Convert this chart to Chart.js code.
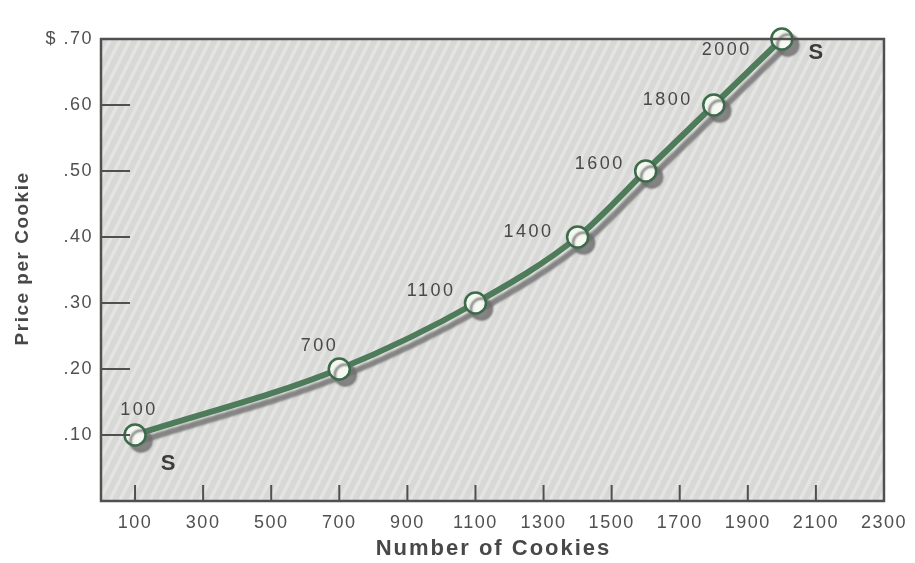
<!DOCTYPE html>
<html>
<head>
<meta charset="utf-8">
<script src="https://cdn.jsdelivr.net/npm/chart.js@4.4.1/dist/chart.umd.min.js"></script>
<style>
  html, body { margin: 0; padding: 0; background: #ffffff; }
  #wrap { width: 915px; height: 563px; position: relative; }
</style>
</head>
<body>
<div id="wrap"><canvas id="c" width="915" height="563"></canvas></div>
<script>
// Supply schedule: cookies offered at each price
const quantities = [100, 700, 1100, 1400, 1600, 1800, 2000];
const prices = [0.10, 0.20, 0.30, 0.40, 0.50, 0.60, 0.70];
const pointLabels = ['100', '700', '1100', '1400', '1600', '1800', '2000'];
const xTickValues = [100, 300, 500, 700, 900, 1100, 1300, 1500, 1700, 1900, 2100, 2300];
const curveName = 'S';
const yTitle = 'Price per Cookie';
const xTitle = 'Number of Cookies';

const INK = '#484848';
const FONT = 'Liberation Sans, Arial, Helvetica, sans-serif';

// Hatched gray panel behind the plot
function hatchPattern(ctx) {
  const p = document.createElement('canvas');
  p.width = 10; p.height = 20;
  const g = p.getContext('2d');
  g.fillStyle = '#d8d9d7';
  g.fillRect(0, 0, 10, 20);
  g.strokeStyle = '#e4e5e3';
  g.lineWidth = 3.5;
  for (let k = -1; k <= 1; k++) {
    g.beginPath();
    g.moveTo(k * 10, 20);
    g.lineTo(k * 10 + 10, 0);
    g.stroke();
  }
  return ctx.createPattern(p, 'repeat');
}

// Wide lettering for the tick labels
const spacingPlugin = {
  id: 'spacing',
  beforeDraw(chart) { chart.ctx.letterSpacing = '1.5px'; },
  afterDraw(chart) { chart.ctx.letterSpacing = '0px'; }
};

const framePlugin = {
  id: 'frame',
  beforeDatasetsDraw(chart) {
    const { ctx, chartArea: a } = chart;
    ctx.save();
    ctx.fillStyle = hatchPattern(ctx);
    ctx.fillRect(a.left, a.top, a.right - a.left, a.bottom - a.top);
    ctx.restore();
  },
  afterDatasetsDraw(chart) {
    const { ctx, chartArea: a, scales } = chart;
    ctx.save();
    ctx.strokeStyle = '#505050';
    ctx.lineWidth = 2.5;
    ctx.strokeRect(a.left, a.top, a.right - a.left, a.bottom - a.top);
    ctx.lineWidth = 2;
    // inward tick marks
    scales.x.ticks.forEach(t => {
      const x = scales.x.getPixelForValue(t.value);
      ctx.beginPath(); ctx.moveTo(x, a.bottom); ctx.lineTo(x, a.bottom - 16); ctx.stroke();
    });
    scales.y.ticks.forEach(t => {
      if (t.value <= 0 || t.value >= 0.7 - 1e-9) return;
      const y = scales.y.getPixelForValue(t.value);
      ctx.beginPath(); ctx.moveTo(a.left, y); ctx.lineTo(a.left + 29, y); ctx.stroke();
    });
    ctx.restore();
  }
};

// Axis titles
const titlePlugin = {
  id: 'axisTitles',
  afterDraw(chart) {
    const { ctx, chartArea: a } = chart;
    ctx.save();
    ctx.fillStyle = INK;
    ctx.textAlign = 'center';
    ctx.textBaseline = 'middle';
    ctx.letterSpacing = '2px';
    ctx.font = 'bold 22px ' + FONT;
    ctx.fillText(xTitle, (a.left + a.right) / 2 + 1, 549);
    ctx.translate(23, a.top + (a.bottom - a.top) * 0.475);
    ctx.rotate(-Math.PI / 2);
    ctx.letterSpacing = '1.5px';
    ctx.font = 'bold 19px ' + FONT;
    ctx.fillText(yTitle, 0, 0);
    ctx.restore();
  }
};

// Offset drop shadow under the supply line
const shadowPlugin = {
  id: 'lineShadow',
  beforeDatasetDraw(chart) {
    const ctx = chart.ctx;
    ctx.save();
    ctx.shadowColor = 'rgba(110,110,110,0.8)';
    ctx.shadowOffsetX = 6;
    ctx.shadowOffsetY = 6;
    ctx.shadowBlur = 2;
  },
  afterDatasetDraw(chart) {
    chart.ctx.restore();
  }
};

// Quantity labels next to each point, plus the curve name at both ends
const labelPlugin = {
  id: 'pointText',
  afterDatasetsDraw(chart, args, opts) {
    const { ctx } = chart;
    const pts = chart.getDatasetMeta(0).data;
    ctx.save();
    ctx.fillStyle = INK;
    ctx.font = '18px ' + FONT;
    ctx.letterSpacing = '2.5px';
    ctx.textBaseline = 'middle';
    pts.forEach((p, i) => {
      const o = opts.offsets[i];
      ctx.textAlign = o[2];
      ctx.fillText(pointLabels[i], p.x + o[0], p.y + o[1]);
    });
    ctx.letterSpacing = '0px';
    ctx.font = 'bold 22px ' + FONT;
    ctx.fillStyle = '#3c3c3c';
    ctx.textAlign = 'center';
    const first = pts[0], last = pts[pts.length - 1];
    ctx.fillText(curveName, first.x + 33, first.y + 29);
    ctx.fillText(curveName, last.x + 34, last.y + 14);
    ctx.restore();
  }
};

new Chart(document.getElementById('c'), {
  type: 'line',
  data: {
    datasets: [{
      data: quantities.map((q, i) => ({ x: q, y: prices[i] })),
      borderColor: '#4e7c5a',
      borderWidth: 6,
      tension: 0.35,
      cubicInterpolationMode: 'monotone',
      pointRadius: 10.5,
      pointBorderWidth: 2.5,
      pointBackgroundColor: '#f6f9f2',
      pointBorderColor: '#3c6a4a',
      clip: false
    }]
  },
  options: {
    responsive: false,
    animation: false,
    layout: { padding: { top: 39, right: 31, left: 0, bottom: 0 } },
    plugins: {
      legend: { display: false },
      tooltip: { enabled: false },
      pointText: {
        offsets: [
          [4, -25, 'center'],
          [-1, -23, 'right'],
          [-20, -12, 'right'],
          [-24, -5, 'right'],
          [-21, -7, 'right'],
          [-21, -5, 'right'],
          [-30, 11, 'right']
        ]
      }
    },
    scales: {
      x: {
        type: 'linear',
        min: 0,
        max: 2300,
        afterBuildTicks: s => { s.ticks = xTickValues.map(v => ({ value: v })); },
        afterFit: s => { s.height = 62; },
        grid: { display: false, drawTicks: false },
        border: { display: false },
        ticks: {
          color: '#505050',
          font: { size: 18, family: FONT },
          padding: 11,
          maxRotation: 0,
          autoSkip: false,
          callback: v => String(v)
        },
        title: { display: false }
      },
      y: {
        min: 0,
        max: 0.7,
        afterFit: s => { s.width = 101; },
        grid: { display: false, drawTicks: false },
        border: { display: false },
        ticks: {
          stepSize: 0.1,
          color: '#505050',
          font: { size: 18, family: FONT },
          padding: 8,
          callback: v => {
            if (v <= 0) return '';
            const t = v.toFixed(2).slice(1);
            return v >= 0.7 - 1e-9 ? '$ ' + t : t;
          }
        },
        title: { display: false }
      }
    }
  },
  plugins: [spacingPlugin, framePlugin, shadowPlugin, labelPlugin, titlePlugin]
});
</script>
</body>
</html>
